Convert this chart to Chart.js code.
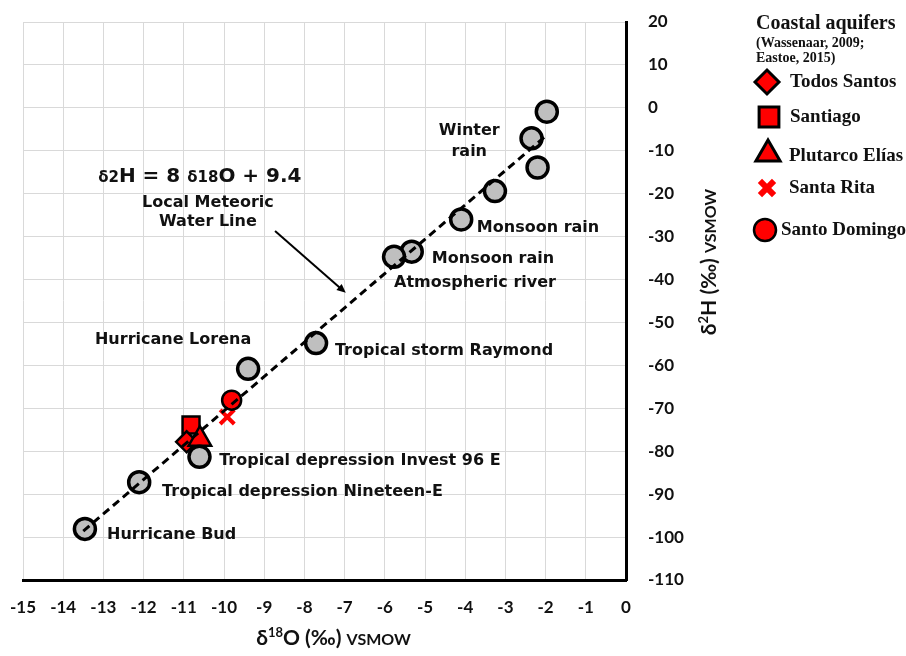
<!DOCTYPE html>
<html><head><meta charset="utf-8">
<script src="https://cdn.jsdelivr.net/npm/chart.js@4.4.1/dist/chart.umd.min.js"></script>
<style>html,body{margin:0;padding:0;background:#fff}#wrap{width:906px;height:656px}</style>
</head><body><div id="wrap"><canvas id="c" width="906" height="656"></canvas></div>
<script>
// ---------- DATA ----------
const xTickValues = [-15,-14,-13,-12,-11,-10,-9,-8,-7,-6,-5,-4,-3,-2,-1,0];
const yTickValues = [20,10,0,-10,-20,-30,-40,-50,-60,-70,-80,-90,-100,-110];
// precipitation events (gray circles): δ18O and δ2H
const rainO18 = [-1.97,-2.35,-2.2,-3.26,-4.1,-5.33,-5.77,-7.71,-9.4,-10.61,-12.11,-13.46];
const rainH2  = [-0.9,-7.1,-13.9,-19.4,-26.0,-33.5,-34.7,-54.8,-60.8,-81.3,-87.2,-98.1];
// coastal aquifers
const aquiferNames = ['Todos Santos','Santiago','Plutarco Elías','Santa Rita','Santo Domingo'];
const aquiferO18 = [-10.93,-10.82,-10.6,-9.92,-9.81];
const aquiferH2  = [-77.8,-73.9,-77.2,-72.0,-68.1];
// local meteoric water line endpoints
const lmwlO18 = [-13.5,-2.0];
const lmwlH2  = [-98.6,-6.6];

// ---------- STYLE ----------
const LBL = 'bold 16px "DejaVu Sans"';
const notes = [
  {t:'Winter', x:-3.9, y:-5.4, a:'center'},
  {t:'rain', x:-3.9, y:-10.2, a:'center'},
  {t:'Monsoon rain', x:-3.71, y:-28.0, a:'left'},
  {t:'Monsoon rain', x:-4.83, y:-35.2, a:'left'},
  {t:'Atmospheric river', x:-5.77, y:-40.8, a:'left'},
  {t:'Tropical storm Raymond', x:-7.24, y:-56.7, a:'left'},
  {t:'Hurricane Lorena', x:-13.21, y:-54.1, a:'left'},
  {t:'Tropical depression Invest 96 E', x:-10.12, y:-82.3, a:'left'},
  {t:'Tropical depression Nineteen-E', x:-11.54, y:-89.5, a:'left'},
  {t:'Hurricane Bud', x:-12.91, y:-99.5, a:'left'},
  {t:'Local Meteoric', x:-10.4, y:-22.2, a:'center'},
  {t:'Water Line', x:-10.4, y:-26.6, a:'center'}
];
const arrow = {x1:-8.73, y1:-28.7, x2:-6.97, y2:-43.1};

function pts(xs, ys){ return xs.map((x,i)=>({x:x, y:ys[i]})); }

const markerDefs = [
  {style:'rectRot', r:10.5, bw:2.5, fill:'#ff0000', stroke:'#000', order:5},
  {style:'rect', r:12, bw:2.5, fill:'#ff0000', stroke:'#000', order:6},
  {style:'triangle', r:13, bw:2.5, fill:'#ff0000', stroke:'#000', order:4},
  {style:'crossRot', r:10, bw:4, fill:'#ff0000', stroke:'#ff0000', order:3},
  {style:'circle', r:9.5, bw:2.5, fill:'#ff0000', stroke:'#000', order:2}
];

const datasets = [
  {label:'LMWL', data:pts(lmwlO18,lmwlH2), showLine:true, borderColor:'#000', borderWidth:3,
   borderDash:[8,5], pointRadius:0, order:0},
  {label:'Precipitation', data:pts(rainO18,rainH2), pointStyle:'circle', pointRadius:10.5,
   pointBorderWidth:3.5, backgroundColor:'#bfbfbf', borderColor:'#000', order:1}
];
aquiferNames.forEach((n,i)=>{
  const m = markerDefs[i];
  datasets.push({label:n, data:[{x:aquiferO18[i], y:aquiferH2[i]}], pointStyle:m.style,
    pointRadius:m.r, pointBorderWidth:m.bw, backgroundColor:m.fill, borderColor:m.stroke, order:m.order});
});

function drawRuns(ctx, runs, x, y, align){
  let w = 0;
  runs.forEach(r=>{ ctx.font = r.f; r.w = ctx.measureText(r.t).width; w += r.w; });
  let cx = align==='center' ? x - w/2 : x;
  ctx.textAlign = 'left'; ctx.textBaseline = 'alphabetic';
  runs.forEach(r=>{ ctx.font = r.f; ctx.fillText(r.t, cx, y + (r.dy||0)); cx += r.w; });
}

function marker(ctx, style, r, bw, fill, stroke, x, y){
  ctx.save();
  ctx.fillStyle = fill; ctx.strokeStyle = stroke; ctx.lineWidth = bw;
  if (Chart.helpers && Chart.helpers.drawPoint){
    Chart.helpers.drawPoint(ctx, {pointStyle:style, radius:r, rotation:0, borderWidth:bw}, x, y);
  }
  ctx.restore();
}

const overlay = {
  id:'overlay',
  afterDatasetsDraw(chart){
    const ctx = chart.ctx, xs = chart.scales.x, ys = chart.scales.y;
    ctx.save();
    ctx.fillStyle = '#111';
    notes.forEach(n=>{
      ctx.font = LBL; ctx.textAlign = n.a; ctx.textBaseline = 'middle';
      ctx.fillText(n.t, xs.getPixelForValue(n.x), ys.getPixelForValue(n.y));
    });
    const ex = xs.getPixelForValue(-13.13), ey = ys.getPixelForValue(-15.6) + 7;
    drawRuns(ctx, [
      {t:'δ', f:'bold 15px "DejaVu Sans"'},
      {t:'2', f:'bold 15px "DejaVu Sans"'},
      {t:'H = 8 ', f:'bold 20px "DejaVu Sans"'},
      {t:'δ', f:'bold 15px "DejaVu Sans"'},
      {t:'18', f:'bold 15px "DejaVu Sans"'},
      {t:'O + 9.4', f:'bold 20px "DejaVu Sans"'}
    ], ex, ey, 'left');
    const ax1 = xs.getPixelForValue(arrow.x1), ay1 = ys.getPixelForValue(arrow.y1);
    const ax2 = xs.getPixelForValue(arrow.x2), ay2 = ys.getPixelForValue(arrow.y2);
    const ang = Math.atan2(ay2-ay1, ax2-ax1);
    ctx.strokeStyle = '#000'; ctx.lineWidth = 2;
    ctx.beginPath(); ctx.moveTo(ax1, ay1);
    ctx.lineTo(ax2 - 6*Math.cos(ang), ay2 - 6*Math.sin(ang)); ctx.stroke();
    ctx.fillStyle = '#000';
    ctx.beginPath(); ctx.moveTo(ax2, ay2);
    ctx.lineTo(ax2 - 9*Math.cos(ang) + 4*Math.sin(ang), ay2 - 9*Math.sin(ang) - 4*Math.cos(ang));
    ctx.lineTo(ax2 - 9*Math.cos(ang) - 4*Math.sin(ang), ay2 - 9*Math.sin(ang) + 4*Math.cos(ang));
    ctx.closePath(); ctx.fill();
    ctx.restore();
  },
  afterDraw(chart){
    const ctx = chart.ctx, ca = chart.chartArea;
    ctx.save();
    ctx.fillStyle = '#111';
    drawRuns(ctx, [
      {t:'δ', f:'bold 21px Lato'},
      {t:'18', f:'bold 13px Lato', dy:-8},
      {t:'O (‰) ', f:'bold 21px Lato'},
      {t:'VSMOW', f:'bold 16px Lato'}
    ], (ca.left+ca.right)/2 + 9, 645, 'center');
    ctx.save();
    ctx.translate(716, 262); ctx.rotate(-Math.PI/2);
    drawRuns(ctx, [
      {t:'δ', f:'bold 21px Lato'},
      {t:'2', f:'bold 13px Lato', dy:-8},
      {t:'H (‰) ', f:'bold 21px Lato'},
      {t:'VSMOW', f:'bold 16px Lato'}
    ], 0, 0, 'center');
    ctx.restore();
    ctx.fillStyle = '#111';
    ctx.textAlign = 'left'; ctx.textBaseline = 'middle';
    ctx.font = 'bold 20px "Liberation Serif"';
    ctx.fillText('Coastal aquifers', 756, 24);
    ctx.font = 'bold 14px "Liberation Serif"';
    ctx.fillText('(Wassenaar, 2009;', 756, 43);
    ctx.fillText('Eastoe, 2015)', 756, 58);
    const lg = [
      {s:'rectRot', r:12, bw:3, st:'#000', mx:767, my:82, tx:790},
      {s:'rect', r:14, bw:3, st:'#000', mx:769, my:117, tx:790},
      {s:'triangle', r:14, bw:3, st:'#000', mx:768, my:154, tx:789},
      {s:'crossRot', r:10, bw:6, st:'#ff0000', mx:767, my:188, tx:789},
      {s:'circle', r:11, bw:2.5, st:'#000', mx:765, my:230, tx:781}
    ];
    lg.forEach((l,i)=>{
      marker(ctx, l.s, l.r, l.bw, '#ff0000', l.st, l.mx, l.my);
      ctx.fillStyle = '#111';
      ctx.font = 'bold 19px "Liberation Serif"'; ctx.textAlign = 'left'; ctx.textBaseline = 'middle';
      ctx.fillText(aquiferNames[i], l.tx, l.my + (i===2?2:0));
    });
    ctx.restore();
  }
};

new Chart(document.getElementById('c'), {
  type:'scatter',
  data:{datasets:datasets},
  options:{
    responsive:false, animation:false, devicePixelRatio:1,
    layout:{padding:{left:23, top:22, right:0, bottom:0}},
    plugins:{legend:{display:false}, tooltip:{enabled:false}},
    scales:{
      x:{type:'linear', position:'bottom', min:-15, max:0,
        afterFit(s){ s.height = 76; s.paddingLeft = 0; s.paddingRight = 0; },
        afterBuildTicks(s){ s.ticks = xTickValues.map(v=>({value:v})); },
        ticks:{stepSize:1, padding:17, color:'#111', font:{family:'Lato', weight:'bold', size:17}},
        grid:{color:'#d9d9d9', lineWidth:1, drawTicks:false},
        border:{display:true, color:'#000', width:3}},
      y:{type:'linear', position:'right', min:-110, max:20,
        afterFit(s){ s.width = 280; s.paddingTop = 0; s.paddingBottom = 0; },
        afterBuildTicks(s){ s.ticks = yTickValues.map(v=>({value:v})); },
        ticks:{stepSize:10, padding:22, color:'#111', font:{family:'Lato', weight:'bold', size:17}},
        grid:{color:'#d9d9d9', lineWidth:1, drawTicks:false},
        border:{display:true, color:'#000', width:3}}
    }
  },
  plugins:[overlay]
});
</script></body></html>
